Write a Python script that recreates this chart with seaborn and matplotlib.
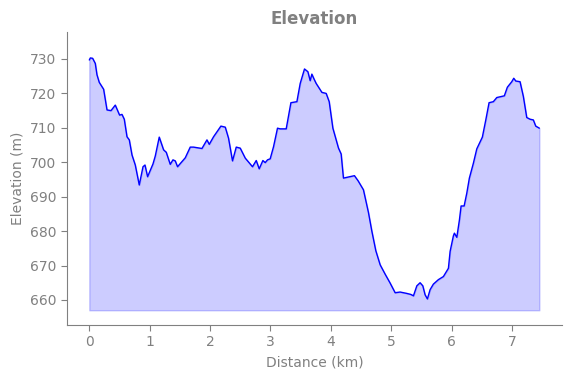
import numpy as np
import pandas as pd
import seaborn as sns
from matplotlib import pyplot as plt

# distance (km) / elevation (m)
distance_km = [
    0.000, 0.017, 0.055, 0.099, 0.127, 0.165, 0.237, 0.293, 0.359, 0.430,
    0.501, 0.541, 0.579, 0.624, 0.662, 0.707, 0.761, 0.827, 0.889, 0.922,
    0.965, 1.054, 1.092, 1.158, 1.230, 1.274, 1.340, 1.385, 1.423, 1.461,
    1.589, 1.671, 1.726, 1.865, 1.948, 1.986, 2.057, 2.179, 2.251, 2.305,
    2.371, 2.433, 2.499, 2.582, 2.702, 2.764, 2.813, 2.874, 2.912, 2.951,
    2.995, 3.050, 3.116, 3.161, 3.260, 3.338, 3.437, 3.492, 3.563, 3.619,
    3.657, 3.685, 3.723, 3.756, 3.851, 3.922, 3.972, 4.033, 4.126, 4.170,
    4.208, 4.390, 4.451, 4.539, 4.622, 4.678, 4.744, 4.816, 4.898, 4.981,
    5.064, 5.146, 5.257, 5.324, 5.367, 5.423, 5.477, 5.522, 5.560, 5.598,
    5.643, 5.697, 5.780, 5.863, 5.946, 5.974, 6.028, 6.045, 6.085, 6.128,
    6.156, 6.206, 6.250, 6.293, 6.359, 6.416, 6.508, 6.565, 6.619, 6.690,
    6.747, 6.872, 6.922, 6.995, 7.028, 7.061, 7.132, 7.187, 7.243, 7.298,
    7.352, 7.392, 7.452,
]
elevation_m = [
    729.7, 730.3, 730.2, 728.7, 725.4, 723.2, 721.2, 715.2, 715.0, 716.6,
    713.7, 713.9, 712.5, 707.4, 706.5, 702.1, 699.2, 693.4, 698.7, 699.2,
    695.8, 699.5, 701.8, 707.3, 703.6, 702.9, 699.4, 700.7, 700.4, 698.7,
    701.3, 704.4, 704.4, 704.0, 706.5, 705.2, 707.4, 710.5, 710.2, 707.0,
    700.4, 704.4, 704.1, 701.2, 698.7, 700.5, 698.1, 700.5, 699.9, 700.7,
    701.0, 704.5, 709.9, 709.7, 709.7, 717.3, 717.6, 722.9, 727.1, 726.3,
    723.7, 725.6, 724.1, 722.9, 720.3, 720.0, 717.6, 709.9, 704.1, 702.4,
    695.4, 696.1, 694.6, 692.0, 685.4, 680.0, 674.3, 670.2, 667.5, 664.9,
    662.1, 662.3, 661.9, 661.6, 661.2, 664.1, 665.0, 664.1, 661.5, 660.3,
    663.0, 664.6, 665.9, 666.8, 669.2, 674.1, 678.6, 679.4, 678.2, 683.2,
    687.3, 687.3, 691.0, 695.4, 699.7, 703.9, 707.3, 712.3, 717.3, 717.6,
    718.8, 719.3, 721.8, 723.4, 724.4, 723.6, 723.4, 719.1, 713.0, 712.5,
    712.3, 710.5, 709.9,
]
fill_base = 657

df = pd.DataFrame({"distance": distance_km, "elevation": elevation_m})

sns.set_style("white")
plt.rcParams['font.family'] = ['DejaVu Sans']
plt.rcParams['font.size'] = 10

fig = plt.figure(figsize=(5.71, 3.78), dpi=100)
ax = fig.add_axes([0.117, 0.140, 0.867, 0.775])

sns.lineplot(data=df, x="distance", y="elevation", color="blue", linewidth=1, ax=ax)
ax.fill_between(df["distance"], df["elevation"], fill_base, color="blue", alpha=0.2)

ax.set_ylim(652.7, 737.8)
ax.set_yticks(np.arange(660, 731, 10))
ax.set_xticks(np.arange(0, 8, 1))

ax.set_title("Elevation", color="gray", fontweight="bold", fontsize=12)
ax.set_xlabel("Distance (km)", color="gray")
ax.set_ylabel("Elevation (m)", color="gray")

sns.despine(ax=ax)
for side in ["left", "bottom"]:
    ax.spines[side].set_color("gray")
ax.tick_params(colors="gray", length=4, width=0.8, left=True, bottom=True)

fig.savefig("out.png", dpi=100)
